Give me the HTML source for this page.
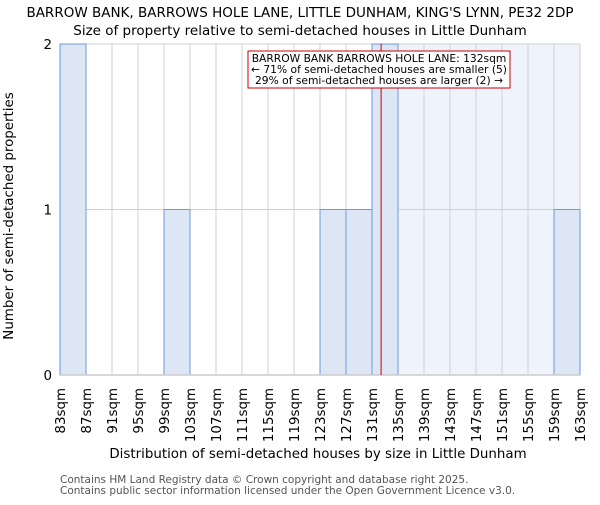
<!DOCTYPE html>
<html><head><meta charset="utf-8"><style>
body{margin:0;background:#fff;}
svg text{font-family:"DejaVu Sans","Liberation Sans",sans-serif;}
</style></head><body>
<svg id="chart" width="600" height="500" xmlns="http://www.w3.org/2000/svg">
<text x="300" y="17" text-anchor="middle" font-size="13.5" fill="#000">BARROW BANK, BARROWS HOLE LANE, LITTLE DUNHAM, KING'S LYNN, PE32 2DP</text>
<text x="300" y="35" text-anchor="middle" font-size="13.5" fill="#000">Size of property relative to semi-detached houses in Little Dunham</text>
<g id="plot"></g>
<text x="318" y="458" text-anchor="middle" font-size="13.4">Distribution of semi-detached houses by size in Little Dunham</text>
<text transform="translate(13,216) rotate(-90)" text-anchor="middle" font-size="13.4">Number of semi-detached properties</text>
<text x="60" y="483" font-size="10.5" fill="#555">Contains HM Land Registry data © Crown copyright and database right 2025.</text>
<text x="60" y="494" font-size="10.5" fill="#555">Contains public sector information licensed under the Open Government Licence v3.0.</text>
</svg>
<script>
const binEdges=[83,87,91,95,99,103,107,111,115,119,123,127,131,135,139,143,147,151,155,159,163];
const counts=[2,0,0,0,1,0,0,0,0,0,1,1,2,0,0,0,0,0,0,1];
const yTicks=[0,1,2];
const subjectSize=132.4;
const NS="http://www.w3.org/2000/svg";
const g=document.getElementById('plot');
const x0=60,x1=580,yb=375,yt=44;
const xs=v=>x0+(v-83)/(163-83)*(x1-x0);
const ys=v=>yb-(v/2)*(yb-yt);
function mk(t,a){const e=document.createElementNS(NS,t);for(const k in a)e.setAttribute(k,a[k]);g.appendChild(e);return e;}
let e=mk('rect',{x:xs(subjectSize),y:yt,width:x1-xs(subjectSize),height:yb-yt,fill:'#eef3fc'});


binEdges.forEach(v=>{const l=mk('line',{x1:xs(v),x2:xs(v),y1:yt,y2:yb,stroke:'#d0d0d0','stroke-width':1});

});
yTicks.forEach(v=>{const l=mk('line',{x1:x0,x2:x1,y1:ys(v),y2:ys(v),stroke:'#d0d0d0','stroke-width':1});


const t=mk('text',{x:x0-8,y:ys(v)+5,'text-anchor':'end','font-size':13.4});t.textContent=v;

});
counts.forEach((c,i)=>{if(!c)return;const a=xs(binEdges[i]),b=xs(binEdges[i+1]);
const r=mk('rect',{x:a,y:ys(c),width:b-a,height:yb-ys(c),fill:'#dce6f4',stroke:'#6b9bd8','stroke-width':1});

});
binEdges.forEach(v=>{const t=mk('text',{transform:`translate(${xs(v)+5},388) rotate(-90)`,'text-anchor':'end','font-size':13.4});t.textContent=v+'sqm';

});
const ax=mk('line',{x1:x0,x2:x1,y1:yb,y2:yb,stroke:'#ccc','stroke-width':1.5});


const rl=mk('line',{x1:xs(subjectSize),x2:xs(subjectSize),y1:yt,y2:yb,stroke:'#cc0000','stroke-width':1});


const box=mk('rect',{x:248,y:51,width:262,height:37,fill:'#fff',stroke:'#cc0000','stroke-width':1});


['BARROW BANK BARROWS HOLE LANE: 132sqm','← 71% of semi-detached houses are smaller (5)','29% of semi-detached houses are larger (2) →'].forEach((s,i)=>{
const t=mk('text',{x:379,y:62+i*11,'text-anchor':'middle','font-size':10.7});t.textContent=s;

});
</script>
</body></html>
